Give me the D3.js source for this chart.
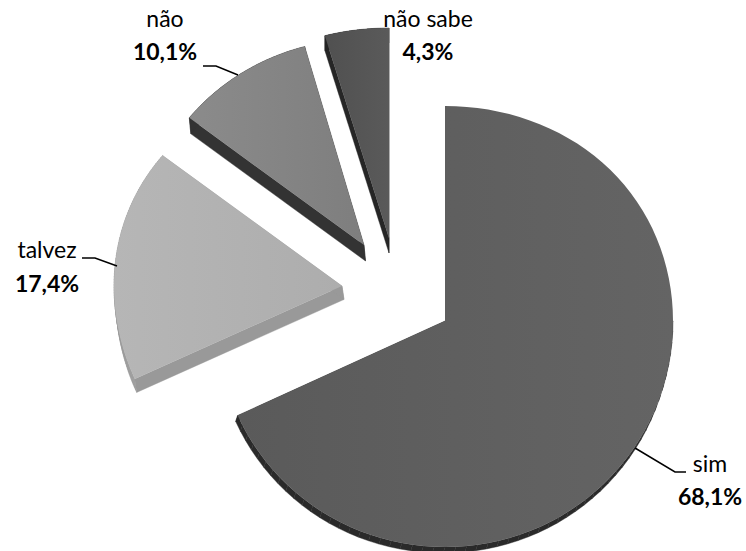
<!DOCTYPE html>
<html><head><meta charset="utf-8">
<script src="https://cdn.jsdelivr.net/npm/d3@7"></script>
<style>html,body{margin:0;padding:0;background:#fff}svg{display:block}</style>
</head><body><svg id="c" width="746" height="551"></svg>
<script>
const categories = ["sim","talvez","não","não sabe"];
const values = [68.1,17.4,10.1,4.3];
const valueLabels = ["68,1%","17,4%","10,1%","4,3%"];
const apexes = [[445,321],[342,286],[364,245],[389,238]];
const radiiX = [228,228,222,240];
const radiiUp = [215,207,206,210];
const radiiDown = [226,230,206,210];
const radiiMid = [225.6,218.5,206,210];
const wallShift = [[-2,6],[2,13.5],[1.5,16],[0,15]];
const wallSkip = [34,0,0,0];
const faceFrom = ["#5a5a5a","#b6b6b6","#8b8b8b","#505050"];
const faceTo = ["#646464","#adadad","#7e7e7e","#5a5a5a"];
const wallFill = ["#2a2a2a","#999999","#333333","#262626"];
const labelPos = [[710,472,505],[47,258,292],[165,27,60],[428,27,60]];
const leaders = [
  [[635,448],[675,472],[686,472]],
  [[82,258],[95,258],[117,266]],
  [[203,66],[216,66],[238,75]],
  []
];

const svg = d3.select("#c");
const pie = d3.pie().sort(null).value(d=>d)(values);
const defs = svg.append("defs");
const line = d3.line();

function rim(i,a0,a1){
  const [cx,cy]=apexes[i], pts=[[cx,cy]], n=90;
  const avg=(radiiUp[i]+radiiDown[i])/2, b=(radiiUp[i]-radiiDown[i])/2;
  d3.range(n+1).forEach(k=>{
    const a=a0+(a1-a0)*k/n, c=Math.cos(a), s=Math.sin(a);
    const ry=radiiMid[i]+b*c+(avg-radiiMid[i])*c*c;
    pts.push([cx+radiiX[i]*s, cy-ry*c]);
  });
  return pts;
}

const g = svg.append("g");
pie.forEach((d,i)=>{
  const grad=defs.append("linearGradient").attr("id","f"+i);
  grad.append("stop").attr("offset","0%").attr("stop-color",faceFrom[i]);
  grad.append("stop").attr("offset","100%").attr("stop-color",faceTo[i]);
  const pts=rim(i,d.startAngle,d.endAngle);
  const [sx,sy]=wallShift[i];
  const wall=pts.concat([pts[0]]);
  wall.slice(1).forEach((p,k)=>{
    if(k<wallSkip[i]) return;
    const q=wall[k];
    g.append("path").attr("fill",wallFill[i]).attr("stroke",wallFill[i]).attr("stroke-width",0.4)
      .attr("d",line([q,p,[p[0]+sx,p[1]+sy],[q[0]+sx,q[1]+sy]])+"Z");
  });
  g.append("path").attr("d",line(pts)+"Z").attr("fill",`url(#f${i})`);
});

leaders.forEach(l=>{
  if(l.length) svg.append("path").attr("d",line(l)).attr("fill","none").attr("stroke","#000").attr("stroke-width",1.5);
});

categories.forEach((c,i)=>{
  const [x,y1,y2]=labelPos[i];
  svg.append("text").attr("x",x).attr("y",y1).attr("text-anchor","middle")
    .attr("font-family","Lato").attr("font-size",23).attr("fill","#000").text(c);
  svg.append("text").attr("x",x).attr("y",y2).attr("text-anchor","middle")
    .attr("font-family","Lato").attr("font-weight",700).attr("font-size",23).attr("fill","#000").text(valueLabels[i]);
});
</script></body></html>
